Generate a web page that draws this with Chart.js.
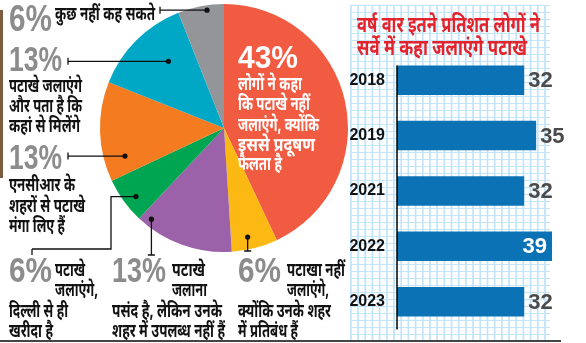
<!DOCTYPE html>
<html>
<head>
<meta charset="utf-8">
<script src="https://cdn.jsdelivr.net/npm/chart.js@4.4.1/dist/chart.umd.min.js"></script>
<style>
  html, body { margin: 0; padding: 0; background: #fff; }
  #wrap { position: relative; width: 586px; height: 343px; overflow: hidden; background: #fff; }
  #pieCanvas { position: absolute; left: 0; top: 0; }
  #barPanel {
    position: absolute; left: 350px; top: 5px; width: 200px; height: 336px;
    background-color: #fff;
    background-image:
      linear-gradient(to right, #c4e5f9 1.5px, transparent 1.5px),
      linear-gradient(to bottom, #c4e5f9 1.5px, transparent 1.5px);
    background-size: 7.2px 7px;
  }
  #barCanvas { position: absolute; left: 350px; top: 0; }
  .hi {
    position: absolute; white-space: nowrap; line-height: 1;
    font-family: "Noto Sans Devanagari", "Lohit Devanagari", "FreeSans", "Noto Sans", sans-serif;
    font-weight: 700; color: #111; transform-origin: 0 0;
  }
  .pct {
    position: absolute; white-space: nowrap; line-height: 1;
    font-family: "Liberation Sans Narrow", "Liberation Sans", Arial, sans-serif;
    font-weight: 700; color: #8c8c8c; transform-origin: 0 0;
  }
  #rule { position: absolute; left: 0; top: 340px; width: 561px; height: 2px; background: #444; }
  #edge { position: absolute; left: 0; top: 10px; width: 3px; height: 168px; background: #7d5d3f; }
</style>
</head>
<body>
<div id="wrap">
  <canvas id="pieCanvas" width="350" height="343"></canvas>
  <div id="barPanel"></div>
  <canvas id="barCanvas" width="236" height="343"></canvas>
  <div id="edge"></div>
  <div id="rule"></div>
</div>
<script>
// Survey shares (%) for the pie, clockwise from 12 o'clock
const sliceShares = [43, 6, 13, 6, 13, 13, 6];
const sliceColors = ['#f15b42', '#fdb913', '#9b61a9', '#00a551', '#f47b20', '#00a8c6', '#939598'];
const sliceNotes = [
  ['लोगों ने कहा', 'कि पटाखे नहीं', 'जलाएंगे, क्योंकि', 'इससे प्रदूषण', 'फैलता है'],
  ['पटाखा नहीं', 'जलाएंगे,', 'क्योंकि उनके शहर', 'में प्रतिबंध हैं'],
  ['पटाखे', 'जलाना', 'पसंद है, लेकिन उनके', 'शहर में उपलब्ध नहीं हैं'],
  ['पटाखे', 'जलाएंगे,', 'दिल्ली से ही', 'खरीदा है'],
  ['एनसीआर के', 'शहरों से पटाखे', 'मंगा लिए हैं'],
  ['पटाखे जलाएंगे', 'और पता है कि', 'कहां से मिलेंगे'],
  ['कुछ नहीं कह सकते']
];

// Year-wise share of people who said they will burst crackers
const years = ['2018', '2019', '2021', '2022', '2023'];
const yearShares = [32, 35, 32, 39, 32];
const panelTitle = ['वर्ष वार इतने प्रतिशत लोगों ने', 'सर्वे में कहा जलाएंगे पटाखे'];

// ---- placement of the annotation blocks (x, headline y, fitted width) ----
const noteLayout = [
  { pct: [238, 45, 60, 23], color: '#fff', pctColor: '#fff',
    lines: [[238, 80, 64], [238, 100, 72], [238, 121, 81], [238, 141, 77], [238, 160, 44]] },
  { pct: [238, 258, 43, 25], lines: [[287, 266, 58], [287, 286, 42], [238, 307, 93], [238, 327, 60]] },
  { pct: [112, 258, 54, 25], lines: [[172, 266, 33], [172, 286, 35], [112, 307, 110], [112, 327, 113]] },
  { pct: [9, 258, 43, 25], lines: [[55, 266, 30], [55, 286, 43], [9, 307, 59], [9, 327, 44]] },
  { pct: [9, 145, 53, 25], lines: [[9, 181, 66], [9, 202, 76], [9, 222, 56]] },
  { pct: [9, 47, 53, 25], lines: [[9, 82, 73], [9, 102, 73], [9, 122, 71]] },
  { pct: [9, 6, 43, 26], lines: [[55, 10, 100]] }
];
// leader lines: which slice, where the dot sits inside it, and the path to the note
const leaders = [
  { slice: 6, along: 0.62, depth: 0.96, path: [{ x: 160 }], cap: 'mid' },
  { slice: 5, along: 0.61, depth: 0.70, path: [{ x: 68 }], cap: 'mid' },
  { slice: 4, along: 0.20, depth: 0.83, path: [{ x: 68 }], cap: 'mid' },
  { slice: 3, along: 0.41, depth: 0.90, path: [{ x: 111 }, { y: 249 }, { x: 32 }], cap: 'down' },
  { slice: 2, along: 0.90, depth: 0.94, path: [{ y: 255 }], cap: 'mid' },
  { slice: 1, along: 0.60, depth: 0.90, path: [{ y: 251 }], cap: 'mid' }
];

const BODY_SIZE = 19;
const HEAD_OFFSET = 0.22;   // headline position inside a line-height:1 box, in em
const wrap = document.getElementById('wrap');

function fitText(el, width) {
  const natural = el.getBoundingClientRect().width;
  if (natural > 0) el.style.transform = 'scaleX(' + (width / natural) + ')';
}

function addHindi(text, x, headY, width, size, color) {
  const el = document.createElement('div');
  el.className = 'hi';
  el.textContent = text;
  el.style.fontSize = size + 'px';
  el.style.left = x + 'px';
  el.style.top = (headY - HEAD_OFFSET * size) + 'px';
  if (color) el.style.color = color;
  wrap.appendChild(el);
  fitText(el, width);
  return el;
}

function addPct(text, x, capTop, width, cap, color) {
  const size = cap / 0.716;
  const el = document.createElement('div');
  el.className = 'pct';
  el.textContent = text;
  el.style.fontSize = size + 'px';
  el.style.left = x + 'px';
  el.style.top = (capTop - 0.13 * size) + 'px';
  if (color) el.style.color = color;
  wrap.appendChild(el);
  fitText(el, width);
}

const leaderPlugin = {
  id: 'leaders',
  afterDraw(chart) {
    const ctx = chart.ctx;
    const meta = chart.getDatasetMeta(0);
    ctx.save();
    ctx.strokeStyle = '#111';
    ctx.fillStyle = '#111';
    ctx.lineWidth = 1.3;
    leaders.forEach(l => {
      const arc = meta.data[l.slice];
      const p = arc.getProps(['x', 'y', 'startAngle', 'endAngle', 'outerRadius'], true);
      const a = p.startAngle + (p.endAngle - p.startAngle) * l.along;
      const px = p.x + Math.cos(a) * p.outerRadius * l.depth;
      const py = p.y + Math.sin(a) * p.outerRadius * l.depth;
      let cx = px, cy = py, horiz = true;
      ctx.beginPath();
      ctx.moveTo(px, py);
      l.path.forEach(s => {
        if (s.x !== undefined) { cx = s.x; horiz = true; }
        if (s.y !== undefined) { cy = s.y; horiz = false; }
        ctx.lineTo(cx, cy);
      });
      if (horiz) {
        if (l.cap === 'down') { ctx.moveTo(cx, cy); ctx.lineTo(cx, cy + 6); }
        else { ctx.moveTo(cx, cy - 3.5); ctx.lineTo(cx, cy + 3.5); }
      } else {
        ctx.moveTo(cx - 3.5, cy); ctx.lineTo(cx + 3.5, cy);
      }
      ctx.stroke();
      ctx.beginPath();
      ctx.arc(px, py, 2.6, 0, Math.PI * 2);
      ctx.fill();
    });
    ctx.restore();
  }
};

new Chart(document.getElementById('pieCanvas'), {
  type: 'pie',
  data: {
    labels: sliceNotes.map(n => n.join(' ')),
    datasets: [{ data: sliceShares, backgroundColor: sliceColors, borderWidth: 0 }]
  },
  options: {
    responsive: false,
    animation: false,
    layout: { padding: { left: 100, right: 2, top: 4, bottom: 91 } },
    plugins: { legend: { display: false }, tooltip: { enabled: false } }
  },
  plugins: [leaderPlugin]
});

const valuePlugin = {
  id: 'values',
  afterDatasetsDraw(chart) {
    const ctx = chart.ctx;
    const bars = chart.getDatasetMeta(0).data;
    const top = Math.max(...yearShares);
    ctx.save();
    ctx.font = 'bold 22px "Liberation Sans Narrow", "Liberation Sans", Arial, sans-serif';
    ctx.textBaseline = 'middle';
    bars.forEach((bar, i) => {
      const v = yearShares[i];
      if (v === top) {
        ctx.fillStyle = '#fff';
        ctx.textAlign = 'right';
        ctx.fillText(String(v), bar.x - 5, bar.y + 1);
      } else {
        ctx.fillStyle = '#4a4a4a';
        ctx.textAlign = 'left';
        ctx.fillText(String(v), bar.x + 4, bar.y + 1);
      }
    });
    // value axis line, starting at the first bar
    const first = bars[0];
    const area = chart.chartArea;
    ctx.strokeStyle = '#000';
    ctx.lineWidth = 1.5;
    ctx.beginPath();
    ctx.moveTo(area.left, first.y - first.height / 2);
    ctx.lineTo(area.left, area.bottom);
    ctx.stroke();
    ctx.restore();
  }
};

new Chart(document.getElementById('barCanvas'), {
  type: 'bar',
  data: {
    labels: years,
    datasets: [{ data: yearShares, backgroundColor: '#0b72b5', barPercentage: 0.534, categoryPercentage: 1 }]
  },
  options: {
    indexAxis: 'y',
    responsive: false,
    animation: false,
    layout: { padding: { left: 0, right: 30, top: 52.5, bottom: 0.5 } },
    scales: {
      x: { min: 0, max: 40, display: false },
      y: {
        grid: { display: false },
        border: { display: false },
        ticks: {
          color: '#111', padding: 4,
          font: { family: '"Liberation Sans Narrow", "Liberation Sans", Arial, sans-serif', weight: 'bold', size: 16 }
        },
        afterFit(scale) { scale.width = 47; }
      }
    },
    plugins: { legend: { display: false }, tooltip: { enabled: false } }
  },
  plugins: [valuePlugin]
});

// annotation text around the pie
noteLayout.forEach((lay, i) => {
  const [px, py, pw, pc] = lay.pct;
  addPct(sliceShares[i] + '%', px, py, pw, pc, lay.pctColor);
  lay.lines.forEach((ln, j) => addHindi(sliceNotes[i][j], ln[0], ln[1], ln[2], BODY_SIZE, lay.color));
});

// panel heading
addHindi(panelTitle[0], 357, 21, 183, 22, '#e3222b');
addHindi(panelTitle[1], 357, 44, 170, 22, '#e3222b');
</script>
</body>
</html>
